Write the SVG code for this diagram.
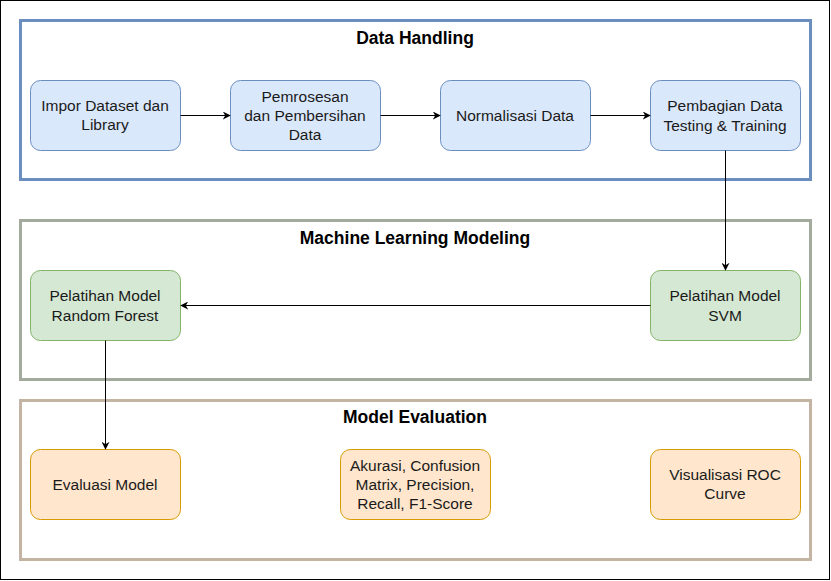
<svg xmlns="http://www.w3.org/2000/svg" width="831" height="581" viewBox="0 0 831 581">
<defs>
<marker id="arr" viewBox="0 0 10 10" refX="9" refY="5" markerWidth="8" markerHeight="8" markerUnits="userSpaceOnUse" orient="auto">
<path d="M0,0 L10,5 L0,10 L3,5 Z" fill="#000"/>
</marker>
<style>
text{font-family:"Liberation Sans",Arial,sans-serif;font-size:15.5px;fill:#1a1a1a;text-anchor:middle}
.title{font-weight:bold;font-size:17.5px;fill:#000}
.grp{fill:#fff;stroke-width:3}
.blue{fill:#dae8fc;stroke:#6c8ebf;stroke-width:1}
.green{fill:#d5e8d4;stroke:#82b366;stroke-width:1}
.orange{fill:#ffe6cc;stroke:#d79b00;stroke-width:1}
.edge{fill:none;stroke:#000;stroke-width:1;marker-end:url(#arr)}
</style>
</defs>
<rect x="0" y="0" width="831" height="581" fill="#fff"/>
<rect x="0.5" y="0.5" width="829" height="579" fill="none" stroke="#000" stroke-width="1"/>

<g id="group-data-handling">
<rect class="grp" x="20.5" y="20.5" width="790" height="159" stroke="#6c8ebf"/>
<text class="title" x="415" y="44">Data Handling</text>
</g>
<g id="group-ml-modeling">
<rect class="grp" x="20.5" y="220.5" width="790" height="159" stroke="#a2ab9e"/>
<text class="title" x="415" y="244">Machine Learning Modeling</text>
</g>
<g id="group-model-evaluation">
<rect class="grp" x="20.5" y="400.5" width="790" height="159" stroke="#c3b4a4"/>
<text class="title" x="415" y="423">Model Evaluation</text>
</g>

<g id="node-impor">
<rect class="blue" x="30.5" y="80.5" width="150" height="70" rx="10"/>
<text x="105" y="111">Impor Dataset dan</text>
<text x="105" y="130">Library</text>
</g>
<g id="node-pemrosesan">
<rect class="blue" x="230.5" y="80.5" width="150" height="70" rx="10"/>
<text x="305" y="102">Pemrosesan</text>
<text x="305" y="121">dan Pembersihan</text>
<text x="305" y="140">Data</text>
</g>
<g id="node-normalisasi">
<rect class="blue" x="440.5" y="80.5" width="150" height="70" rx="10"/>
<text x="515" y="121">Normalisasi Data</text>
</g>
<g id="node-pembagian">
<rect class="blue" x="650.5" y="80.5" width="150" height="70" rx="10"/>
<text x="725" y="111">Pembagian Data</text>
<text x="725" y="131">Testing &amp; Training</text>
</g>
<g id="node-rf">
<rect class="green" x="30.5" y="270.5" width="150" height="70" rx="10"/>
<text x="105" y="301">Pelatihan Model</text>
<text x="105" y="321">Random Forest</text>
</g>
<g id="node-svm">
<rect class="green" x="650.5" y="270.5" width="150" height="70" rx="10"/>
<text x="725" y="301">Pelatihan Model</text>
<text x="725" y="321">SVM</text>
</g>
<g id="node-evaluasi">
<rect class="orange" x="30.5" y="449.5" width="150" height="70" rx="10"/>
<text x="105" y="490">Evaluasi Model</text>
</g>
<g id="node-akurasi">
<rect class="orange" x="340.5" y="449.5" width="150" height="70" rx="10"/>
<text x="415" y="471">Akurasi, Confusion</text>
<text x="415" y="490">Matrix, Precision,</text>
<text x="415" y="509">Recall, F1-Score</text>
</g>
<g id="node-roc">
<rect class="orange" x="650.5" y="449.5" width="150" height="70" rx="10"/>
<text x="725" y="480">Visualisasi ROC</text>
<text x="725" y="499">Curve</text>
</g>

<g id="connectors">
<line class="edge" x1="180.5" y1="115.5" x2="230" y2="115.5"/>
<line class="edge" x1="380.5" y1="115.5" x2="440" y2="115.5"/>
<line class="edge" x1="590.5" y1="115.5" x2="650" y2="115.5"/>
<line class="edge" x1="725.5" y1="150.5" x2="725.5" y2="270"/>
<line class="edge" x1="650.5" y1="305.5" x2="181" y2="305.5"/>
<line class="edge" x1="105.5" y1="340.5" x2="105.5" y2="449"/>
</g>
</svg>
